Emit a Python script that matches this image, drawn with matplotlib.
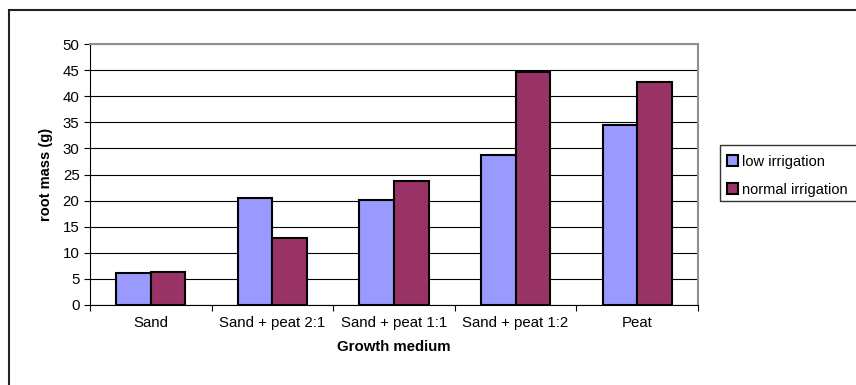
import matplotlib.pyplot as plt
import matplotlib.patches as mpatches
import numpy as np

plt.rcParams['font.family'] = ['Liberation Sans', 'DejaVu Sans']

# Data
media = ["Sand", "Sand + peat 2:1", "Sand + peat 1:1", "Sand + peat 1:2", "Peat"]
low_irrigation = [6.1, 20.5, 20.1, 28.8, 34.4]
normal_irrigation = [6.4, 12.8, 23.7, 44.7, 42.7]

fig = plt.figure(figsize=(8.56, 3.85), dpi=100)
ax = fig.add_axes([90/856, 1 - 305/385, 608/856, 261/385])

x = np.arange(len(media))
w = 0.285
ax.bar(x - w/2, low_irrigation, w, color="#9999FF", edgecolor="black",
       linewidth=1.5, label="low irrigation", zorder=3)
ax.bar(x + w/2, normal_irrigation, w, color="#993366", edgecolor="black",
       linewidth=1.5, label="normal irrigation", zorder=3)

ax.set_xlim(-0.5, len(media) - 0.5)
ax.set_ylim(0, 50)
ax.set_yticks(range(0, 51, 5))
ax.set_xticks(x)
ax.set_xticklabels(media, fontsize=10.8)
ax.tick_params(axis='x', length=0, pad=8)
ax.tick_params(axis='y', labelsize=10.8, length=4, width=0.8, direction='out')
# category separators on x axis
ax.set_xticks(np.arange(-0.5, len(media) - 0.4, 1), minor=True)
ax.tick_params(axis='x', which='minor', length=4, width=0.8, direction='out')

ax.grid(axis='y', color='black', linewidth=0.8, zorder=0)
for side in ['top', 'right']:
    ax.spines[side].set_color('#909090')
    ax.spines[side].set_linewidth(1.5)
ax.spines['left'].set_linewidth(0.8)
ax.spines['bottom'].set_linewidth(0.8)

ax.set_ylabel("root mass (g)", fontsize=10.5, fontweight='bold', labelpad=7)
ax.set_xlabel("Growth medium", fontsize=10.8, fontweight='bold', labelpad=7)

ax.legend(loc='upper left', bbox_to_anchor=(724/856, 1 - 152/385),
          bbox_transform=fig.transFigure, fontsize=10.5, frameon=False,
          handlelength=0.75, handleheight=0.75, handletextpad=0.25,
          labelspacing=0.95, borderpad=0.2, borderaxespad=0)

# legend frame running past the right edge
fig.patches.append(mpatches.Rectangle((720/856, 1 - 201/385), 0.3, 56/385,
                                      transform=fig.transFigure, fill=False,
                                      edgecolor='#333333', linewidth=1.0))

# outer chart border (extends past the right and bottom of the image)
fig.patches.append(mpatches.Rectangle((9/856, -0.1), 1.2, 1.1 - 10/385,
                                      transform=fig.transFigure, fill=False,
                                      edgecolor='#222222', linewidth=1.5))

fig.savefig("out.png", dpi=100)
